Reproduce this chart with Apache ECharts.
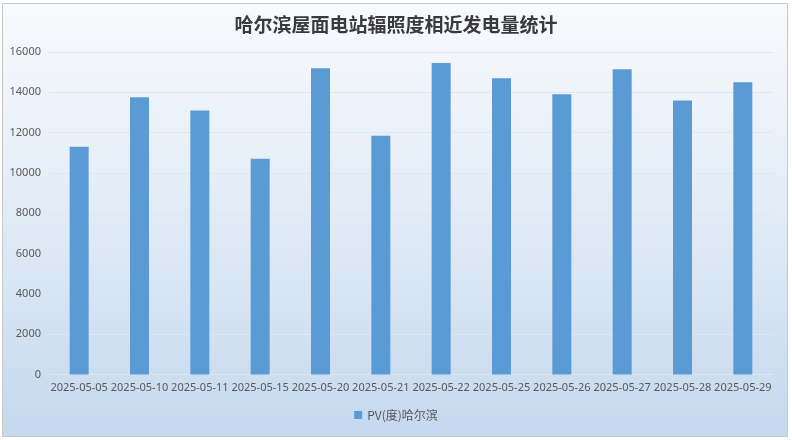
<!DOCTYPE html>
<html>
<head>
<meta charset="utf-8">
<script src="https://cdn.jsdelivr.net/npm/echarts@6/dist/echarts.min.js"></script>
<style>html,body{margin:0;padding:0;background:#fff;}#c{width:792px;height:440px;}</style>
</head>
<body>
<div id="c"></div>
<script>
const titleText = '哈尔滨屋面电站辐照度相近发电量统计';
const seriesName = 'PV(度)哈尔滨';
const categories = ['2025-05-05','2025-05-10','2025-05-11','2025-05-15','2025-05-20','2025-05-21','2025-05-22','2025-05-25','2025-05-26','2025-05-27','2025-05-28','2025-05-29'];
const values = [11300, 13750, 13100, 10700, 15200, 11850, 15450, 14700, 13900, 15150, 13600, 14500];
const yTicks = [0, 2000, 4000, 6000, 8000, 10000, 12000, 14000, 16000];

const chart = echarts.init(document.getElementById('c'), null, {renderer: 'canvas'});
chart.setOption({
  animation: false,
  backgroundColor: '#ffffff',
  graphic: [{
    type: 'rect', z: -10, silent: true,
    shape: {x: 2.5, y: 3.5, width: 785, height: 433},
    style: {
      fill: new echarts.graphic.LinearGradient(0, 0, 0, 1, [
        {offset: 0, color: '#f8fafd'},
        {offset: 0.5, color: '#e1ebf6'},
        {offset: 1, color: '#c4d8ee'}
      ]),
      stroke: '#c8c8c8', lineWidth: 1
    }
  }],
  title: {
    text: titleText, left: 'center', top: 10,
    textStyle: {fontFamily: 'Noto Sans CJK SC', fontWeight: 'bold', fontSize: 19, color: '#3a3a3a'}
  },
  legend: {
    data: [seriesName], bottom: 14, left: 'center',
    itemWidth: 8, itemHeight: 8, icon: 'rect',
    textStyle: {fontFamily: 'Noto Sans CJK SC', fontSize: 12, color: '#595959'}
  },
  grid: {left: 49, right: 19, top: 52, bottom: 65.5, containLabel: false},
  xAxis: {
    type: 'category', data: categories,
    axisLine: {show: false}, axisTick: {show: false},
    axisLabel: {interval: 0, color: '#595959', fontSize: 11, fontFamily: 'Noto Sans, sans-serif', margin: 8}
  },
  yAxis: {
    type: 'value', min: yTicks[0], max: yTicks[yTicks.length - 1], interval: 2000,
    axisLine: {show: false}, axisTick: {show: false},
    axisLabel: {color: '#595959', fontSize: 11, fontFamily: 'Noto Sans, sans-serif', margin: 8,
      formatter: function (v) { return String(v); }},
    splitLine: {lineStyle: {color: '#dfe7f0', width: 1}}
  },
  series: [{
    name: seriesName, type: 'bar', data: values, barWidth: 19,
    itemStyle: {color: '#5b9bd5'}
  }]
});
</script>
</body>
</html>
